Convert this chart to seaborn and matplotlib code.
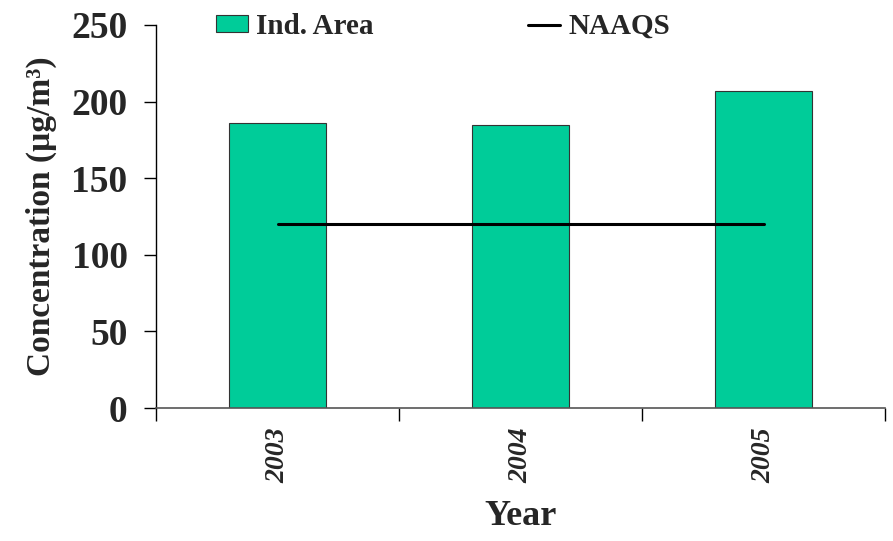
import seaborn as sns
import matplotlib.pyplot as plt
import numpy as np

# data
years = ['2003', '2004', '2005']
ind_area = [186, 185, 207]
naaqs = [120, 120, 120]
y_ticks = [0, 50, 100, 150, 200, 250]

sns.set_style('white')
plt.rcParams['font.family'] = ['Liberation Serif', 'DejaVu Serif']
plt.rcParams['font.weight'] = 'bold'

fig = plt.figure(figsize=(8.93, 5.41), dpi=100)
ax = fig.add_axes([156 / 893, 1 - 408 / 541, (885 - 156) / 893, (408 - 25) / 541])

# bars
sns.barplot(x=years, y=ind_area, color='#00CC99', saturation=1, width=0.4,
            edgecolor='#333333', linewidth=0.8, label='Ind. Area', ax=ax)

# standard line
ax.plot(np.arange(len(years)), naaqs, color='black', lw=2.2, label='NAAQS')

ax.set_xlim(-0.5, len(years) - 0.5)
ax.set_ylim(0, 250)
ax.set_yticks(y_ticks)

for side in ['top', 'right']:
    ax.spines[side].set_visible(False)
ax.spines['left'].set_color('black')
ax.spines['left'].set_linewidth(1.0)
ax.spines['bottom'].set_color('#555555')
ax.spines['bottom'].set_linewidth(1.2)

ax.tick_params(axis='y', which='major', direction='out', length=8.5, width=1,
               pad=12, labelsize=27, left=True, color='black')
ax.tick_params(axis='x', which='major', length=0, pad=14, labelsize=20)
ax.set_xticks(np.arange(-0.5, len(years)), minor=True)
ax.tick_params(axis='x', which='minor', direction='out', length=9.4, width=1,
               bottom=True, color='black')
for lab in ax.get_xticklabels():
    lab.set_rotation(90)
    lab.set_fontstyle('italic')
    lab.set_fontweight('bold')
for lab in ax.get_yticklabels():
    lab.set_fontweight('bold')

ax.set_ylabel('Concentration (µg/m³)', fontsize=24, fontweight='bold')
ax.yaxis.set_label_coords(-0.136, 0.5)
ax.set_xlabel('Year', fontsize=26, fontweight='bold')
ax.xaxis.set_label_coords(0.5, -0.24)

handles, labels = ax.get_legend_handles_labels()
order = [labels.index('Ind. Area'), labels.index('NAAQS')]
ax.legend([handles[i] for i in order], [labels[i] for i in order], ncol=2,
          loc='upper left',
          bbox_to_anchor=(216 / 893, 1 - 13 / 541), bbox_transform=fig.transFigure,
          frameon=False, prop={'size': 21, 'weight': 'bold'},
          handlelength=1.08, handleheight=0.52, handletextpad=0.3,
          columnspacing=5.3, borderpad=0, borderaxespad=0)

fig.savefig('out.png', dpi=100)
